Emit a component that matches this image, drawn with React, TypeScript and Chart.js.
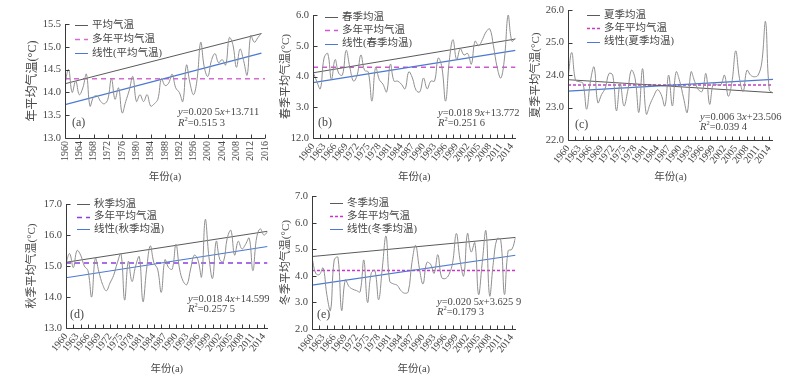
import React, { useEffect, useRef } from 'react';
import { Chart, registerables } from 'chart.js';
Chart.register(...registerables);

// ---------------- data ----------------
const years = [
  1960, 1961, 1962, 1963, 1964, 1965, 1966, 1967, 1968, 1969,
  1970, 1971, 1972, 1973, 1974, 1975, 1976, 1977, 1978, 1979,
  1980, 1981, 1982, 1983, 1984, 1985, 1986, 1987, 1988, 1989,
  1990, 1991, 1992, 1993, 1994, 1995, 1996, 1997, 1998, 1999,
  2000, 2001, 2002, 2003, 2004, 2005, 2006, 2007, 2008, 2009,
  2010, 2011, 2012, 2013, 2014, 2015,
];

const annualTemp = [
  14.2, 14.5, 14.0, 14.25, 13.95, 14.1, 14.4, 13.7, 13.9, 13.92,
  13.8, 13.75, 13.85, 14.3, 13.85, 14.1, 13.55, 13.8, 14.05, 14.35,
  13.8, 13.95, 13.8, 13.95, 13.7, 13.75, 13.85, 14.3, 14.15, 14.2,
  14.4, 14.1, 14.0, 13.8, 14.6, 14.2, 13.95, 14.3, 15.1, 14.55,
  14.35, 14.7, 14.85, 14.65, 14.72, 14.6, 15.2, 15.05, 14.55, 14.95,
  14.7, 14.38, 15.25, 15.1, 15.2, 15.3,
];
const springTemp = [
  4.15, 3.85, 3.6, 4.6, 4.75, 3.9, 4.55, 4.1, 4.05, 4.85,
  4.3, 3.85, 4.05, 4.7, 4.2, 4.15, 3.2, 4.3, 3.9, 3.75,
  3.5, 4.4, 3.85, 3.85, 3.75, 3.6, 4.15, 3.95, 3.55, 3.5,
  3.95, 3.6, 3.85, 3.85, 4.6, 4.3, 3.2, 4.5, 5.2, 4.55,
  4.9, 4.7, 4.75, 4.4, 5.15, 5.0, 5.2, 5.45, 5.55, 5.0,
  4.3, 3.95, 4.6, 6.0, 5.15, 5.25,
];
const summerTemp = [
  23.9, 24.7, 23.85, 23.8, 23.75, 22.95, 23.8, 24.25, 23.15, 23.4,
  23.6, 24.05, 24.0, 22.9, 23.75, 23.05, 23.5, 24.15, 23.9, 22.85,
  24.2, 22.8, 23.1, 23.35, 23.55, 23.4, 23.05, 24.0, 23.05, 24.1,
  23.8, 23.3, 22.85, 24.1, 23.8, 23.55, 23.5, 24.05, 23.1, 23.75,
  23.7, 23.7, 24.0, 23.35, 23.8, 24.75, 23.9, 23.5, 24.15, 24.0,
  23.95, 24.0, 24.4, 25.65, 23.55, 23.45,
];
const autumnTemp = [
  15.1, 15.4, 14.95, 15.5, 15.35, 15.0, 14.85, 14.0, 15.25, 14.8,
  14.4, 14.2, 14.45, 14.7, 15.1, 15.4, 13.9, 15.15, 14.5, 15.0,
  15.3, 13.85, 14.9, 15.65, 15.1, 14.9, 14.15, 15.2, 14.95, 14.9,
  15.7, 14.9, 14.5, 14.4, 14.9, 15.35, 15.2, 14.65, 16.5, 15.3,
  14.6, 15.8, 15.2, 15.15, 15.9, 16.15, 15.35, 15.8, 15.55, 15.7,
  15.9, 14.85, 15.9, 16.2, 16.0, 16.1,
];
const winterTemp = [
  4.7, 4.1, 4.05, 4.3, 3.3, 2.7, 4.6, 4.7, 2.7, 3.85,
  3.6, 3.5, 3.45, 3.4, 4.6, 3.0, 4.1, 4.2, 3.1, 4.3,
  5.5, 3.8, 3.7, 3.65, 3.45, 3.35, 3.4, 4.5, 5.15, 4.3,
  3.7, 4.5, 4.45, 4.1, 4.8, 3.95, 3.9, 4.05, 4.5, 5.6,
  4.6, 4.0, 5.6, 4.9, 5.25, 3.3, 4.5, 5.7, 3.25, 4.5,
  5.4, 5.35, 3.3, 4.95, 5.0, 5.45,
];

// multi-year means (a..e)
const meanTemps = [14.3, 4.3, 23.7, 15.1, 4.2];
// linear-trend line end values [1960, 2015]
const annualTrend = [13.73, 14.86];
const springTrend = [3.8, 4.85];
const summerTrend = [23.51, 23.87];
const autumnTrend = [14.62, 15.63];
const winterTrend = [3.65, 4.78];
// upper straight gray line end values [1960, 2015]
const annualUpper = [14.19, 15.29];
const springUpper = [4.12, 5.22];
const summerUpper = [23.86, 23.46];
const autumnUpper = [15.12, 16.12];
const winterUpper = [4.73, 5.45];

// regression texts
const slopes = ['0.020 5', '0.018 9', '0.006 3', '0.018 4', '0.020 5'];
const intercepts = ['13.711', '13.772', '23.506', '14.599', '3.625 9'];
const r2Values = ['0.515 3', '0.251 6', '0.039 4', '0.257 5', '0.179 3'];

// tick labels
const annualXLabels = [1960, 1964, 1968, 1972, 1976, 1980, 1984, 1988, 1992, 1996, 2000, 2004, 2008, 2012, 2016];
const seasonXLabels = [1960, 1963, 1966, 1969, 1972, 1975, 1978, 1981, 1984, 1987, 1990, 1993, 1996, 1999, 2002, 2005, 2008, 2011, 2014];
const seasonXTickMarks = [1960, 1962, 1964, 1966, 1968, 1970, 1972, 1974, 1976, 1978, 1980, 1982, 1984, 1986, 1988, 1990, 1992, 1994, 1996, 1998, 2000, 2002, 2004, 2006, 2008, 2010, 2012, 2014];
const annualYTicks = [13.0, 13.5, 14.0, 14.5, 15.0, 15.5];
const springYTicks = [2, 3, 4, 5, 6];
const springYLabels = ['12.0', '3.0', '4.0', '5.0', '6.0'];
const summerYTicks = [22, 23, 24, 25, 26];
const autumnYTicks = [13, 14, 15, 16, 17];
const winterYTicks = [2, 3, 4, 5, 6, 7];

const seriesNames = ['平均气温', '春季均温', '夏季均温', '秋季均温', '冬季均温'];
const yTitles = ['年平均气温(°C)', '春季平均气温(°C)', '夏季平均气温(°C)', '秋季平均气温(°C)', '冬季平均气温(°C)'];
const meanName = '多年平均气温';
const tags = ['(a)', '(b)', '(c)', '(d)', '(e)'];
const xTitle = '年份(a)';

// ---------------- styles / layout ----------------
const SERIF = "'Liberation Serif', 'Noto Sans CJK SC', serif";
const TEXT = '#474747';
const AXIS = '#3a3a3a';
const DATA_GRAY = '#8f8f8f';
const UPPER_GRAY = '#5a5a5a';
const BLUE = '#4a78d4';

type Panel = {
  box: [number, number, number, number];
  plot: [number, number, number, number];
  values: number[];
  trend: number[];
  upper: number[];
  idx: number;
  xMin: number;
  xMax: number;
  xTicks: number[];
  xLabels: number[];
  xMarks: number[];
  rotation: number;
  yMin: number;
  yMax: number;
  yTicks: number[];
  yLabels: string[];
  yTitleSize: number;
  meanColor: string;
  meanDash: number[];
  legend: [number, number, number];
  eq: [number, number, number];
  tag: [number, number];
};

const fmt1 = (a: number[]) => a.map((v) => v.toFixed(1));

const panels: Panel[] = [
  {
    box: [0, 0, 280, 186], plot: [65, 24, 274, 138],
    values: annualTemp, trend: annualTrend, upper: annualUpper, idx: 0,
    xMin: 1960, xMax: 2016, xTicks: annualXLabels, xLabels: annualXLabels, xMarks: annualXLabels, rotation: 90,
    yMin: 13, yMax: 15.5, yTicks: annualYTicks, yLabels: fmt1(annualYTicks), yTitleSize: 12,
    meanColor: '#d36bd0', meanDash: [5, 4],
    legend: [75, 25, 14], eq: [178, 112, 11.5], tag: [72, 123],
  },
  {
    box: [278, 0, 250, 186], plot: [313, 15, 518, 138],
    values: springTemp, trend: springTrend, upper: springUpper, idx: 1,
    xMin: 1960, xMax: 2015, xTicks: years, xLabels: seasonXLabels, xMarks: seasonXTickMarks, rotation: 52,
    yMin: 2, yMax: 6, yTicks: springYTicks, yLabels: springYLabels, yTitleSize: 11,
    meanColor: '#d057cf', meanDash: [5, 4],
    legend: [325, 17, 13.3], eq: [438, 113, 10.5], tag: [318, 123],
  },
  {
    box: [528, 0, 265, 186], plot: [568, 9.5, 773, 140],
    values: summerTemp, trend: summerTrend, upper: summerUpper, idx: 2,
    xMin: 1960, xMax: 2015, xTicks: years, xLabels: seasonXLabels, xMarks: seasonXTickMarks, rotation: 52,
    yMin: 22, yMax: 26, yTicks: summerYTicks, yLabels: fmt1(summerYTicks), yTitleSize: 11,
    meanColor: '#c23fc4', meanDash: [3, 2],
    legend: [587, 15, 13.3], eq: [700, 117, 10.5], tag: [575, 125],
  },
  {
    box: [0, 186, 280, 192], plot: [66, 204, 270, 328],
    values: autumnTemp, trend: autumnTrend, upper: autumnUpper, idx: 3,
    xMin: 1960, xMax: 2015, xTicks: years, xLabels: seasonXLabels, xMarks: seasonXTickMarks, rotation: 52,
    yMin: 13, yMax: 17, yTicks: autumnYTicks, yLabels: fmt1(autumnYTicks), yTitleSize: 11,
    meanColor: '#8a3fe0', meanDash: [5, 4],
    legend: [77, 204, 12.6], eq: [188, 299, 10.5], tag: [70, 315],
  },
  {
    box: [278, 186, 250, 192], plot: [312, 196, 518, 329],
    values: winterTemp, trend: winterTrend, upper: winterUpper, idx: 4,
    xMin: 1960, xMax: 2015, xTicks: years, xLabels: seasonXLabels, xMarks: seasonXTickMarks, rotation: 52,
    yMin: 2, yMax: 7, yTicks: winterYTicks, yLabels: fmt1(winterYTicks), yTitleSize: 11,
    meanColor: '#cc33cc', meanDash: [3, 2],
    legend: [330, 203, 13], eq: [437, 302, 10.5], tag: [317, 315],
  },
];

type Seg = { t: string; it?: boolean; sup?: boolean };
function drawRich(ctx: CanvasRenderingContext2D, segs: Seg[], x: number, y: number, size: number) {
  let cx = x;
  for (const s of segs) {
    const fs = s.sup ? size * 0.62 : size;
    ctx.font = `${s.it ? 'italic ' : ''}${fs}px ${SERIF}`;
    const dy = s.sup ? -size * 0.38 : 0;
    ctx.fillText(s.t, cx, y + dy);
    cx += ctx.measureText(s.t).width;
  }
}

function makeDecorPlugin(p: Panel) {
  const ox = p.box[0];
  const oy = p.box[1];
  return {
    id: 'decor' + p.idx,
    afterDatasetsDraw(chart: any) {
      const { ctx, chartArea } = chart;
      const xs = chart.scales.x;
      const ys = chart.scales.y;
      ctx.save();
      // axes
      ctx.strokeStyle = AXIS;
      ctx.lineWidth = 1;
      ctx.setLineDash([]);
      ctx.beginPath();
      const L = Math.round(chartArea.left) + 0.5;
      const B = Math.round(chartArea.bottom) + 0.5;
      ctx.moveTo(L, Math.round(chartArea.top));
      ctx.lineTo(L, B);
      ctx.lineTo(Math.round(chartArea.right), B);
      // inward ticks
      for (const v of p.xMarks) {
        const px = Math.round(xs.getPixelForValue(v)) + 0.5;
        ctx.moveTo(px, B);
        ctx.lineTo(px, B - 4);
      }
      for (const v of p.yTicks) {
        const py = Math.round(ys.getPixelForValue(v)) + 0.5;
        ctx.moveTo(L, py);
        ctx.lineTo(L + 4, py);
      }
      ctx.stroke();

      // legend
      const [lx, ly, lstep] = p.legend;
      const items = [
        { name: seriesNames[p.idx], color: UPPER_GRAY, dash: [] as number[] },
        { name: meanName, color: p.meanColor, dash: p.meanDash },
        { name: '线性(' + seriesNames[p.idx] + ')', color: BLUE, dash: [] as number[] },
      ];
      ctx.textBaseline = 'middle';
      ctx.textAlign = 'left';
      items.forEach((it, i) => {
        const y = ly - oy + i * lstep;
        const x0 = lx - ox;
        ctx.beginPath();
        ctx.strokeStyle = it.color;
        ctx.lineWidth = it.dash.length ? 1.5 : 1;
        ctx.setLineDash(it.dash);
        ctx.moveTo(x0, Math.round(y) + 0.5);
        ctx.lineTo(x0 + 13, Math.round(y) + 0.5);
        ctx.stroke();
        ctx.setLineDash([]);
        ctx.fillStyle = TEXT;
        ctx.font = `10.5px ${SERIF}`;
        ctx.fillText(it.name, x0 + 17, y);
      });

      // equation
      const [ex, ey, estep] = p.eq;
      ctx.fillStyle = TEXT;
      drawRich(ctx, [
        { t: 'y', it: true }, { t: '=' + slopes[p.idx] }, { t: 'x', it: true }, { t: '+' + intercepts[p.idx] },
      ], ex - ox, ey - oy, 10.5);
      drawRich(ctx, [
        { t: 'R', it: true }, { t: '2', sup: true }, { t: '=' + r2Values[p.idx] },
      ], ex - ox, ey - oy + estep, 10.5);

      // panel tag
      ctx.font = `12px ${SERIF}`;
      ctx.fillText(tags[p.idx], p.tag[0] - ox, p.tag[1] - oy);
      ctx.restore();
    },
  };
}

function PanelChart({ p }: { p: Panel }) {
  const ref = useRef<HTMLCanvasElement | null>(null);
  useEffect(() => {
    if (!ref.current) return;
    const [bx, by, bw, bh] = p.box;
    const [pl, pt, pr, pb] = p.plot;
    const lineData = years.map((yr, i) => ({ x: yr, y: p.values[i] }));
    const first = years[0];
    const last = years[years.length - 1];
    const chart = new Chart(ref.current, {
      type: 'line',
      data: {
        datasets: [
          {
            label: seriesNames[p.idx],
            data: lineData,
            borderColor: DATA_GRAY,
            borderWidth: 1,
            pointRadius: 0,
            tension: 0.4,
            fill: false,
          },
          {
            label: 'upper',
            data: [{ x: first, y: p.upper[0] }, { x: last, y: p.upper[1] }],
            borderColor: UPPER_GRAY,
            borderWidth: 1,
            pointRadius: 0,
            tension: 0,
          },
          {
            label: '线性(' + seriesNames[p.idx] + ')',
            data: [{ x: first, y: p.trend[0] }, { x: last, y: p.trend[1] }],
            borderColor: BLUE,
            borderWidth: 1.2,
            pointRadius: 0,
            tension: 0,
          },
          {
            label: meanName,
            data: [{ x: p.xMin, y: meanTemps[p.idx] }, { x: p.xMax, y: meanTemps[p.idx] }],
            borderColor: p.meanColor,
            borderWidth: 1.5,
            borderDash: p.meanDash,
            pointRadius: 0,
            tension: 0,
          },
        ],
      },
      options: {
        responsive: false,
        animation: false,
        devicePixelRatio: 1,
        layout: { padding: { left: 0, top: pt - by, right: bx + bw - pr, bottom: 0 } },
        plugins: { legend: { display: false }, tooltip: { enabled: false }, title: { display: false } },
        scales: {
          x: {
            type: 'linear',
            min: p.xMin,
            max: p.xMax,
            grid: { display: false, drawTicks: false },
            border: { display: false },
            afterBuildTicks: (s: any) => {
              s.ticks = p.xTicks.map((v) => ({ value: v }));
            },
            afterFit: (s: any) => {
              s.height = by + bh - pb;
            },
            ticks: {
              autoSkip: false,
              maxRotation: p.rotation,
              minRotation: p.rotation,
              padding: 3,
              color: TEXT,
              font: { family: SERIF, size: 10 },
              callback: (v: any) => (p.xLabels.includes(Number(v)) ? String(v) : ''),
            },
            title: {
              display: true,
              text: xTitle,
              color: TEXT,
              font: { family: SERIF, size: 10.5 },
              padding: { top: 0, bottom: 2 },
            },
          },
          y: {
            type: 'linear',
            min: p.yMin,
            max: p.yMax,
            grid: { display: false, drawTicks: false },
            border: { display: false },
            afterBuildTicks: (s: any) => {
              s.ticks = p.yTicks.map((v) => ({ value: v }));
            },
            afterFit: (s: any) => {
              s.width = pl - bx;
            },
            ticks: {
              padding: 4,
              color: TEXT,
              font: { family: SERIF, size: 10.5 },
              callback: (v: any) => {
                const i = p.yTicks.indexOf(Number(v));
                return i >= 0 ? p.yLabels[i] : '';
              },
            },
            title: {
              display: true,
              text: yTitles[p.idx],
              color: TEXT,
              font: { family: SERIF, size: p.yTitleSize },
              padding: { top: p.idx === 0 || p.idx === 3 ? 26 : 2, bottom: 0 },
            },
          },
        },
      },
      plugins: [makeDecorPlugin(p)],
    } as any);
    return () => chart.destroy();
  }, [p]);
  const [bx, by, bw, bh] = p.box;
  return (
    <canvas
      ref={ref}
      width={bw}
      height={bh}
      style={{ position: 'absolute', left: bx, top: by, width: bw, height: bh }}
    />
  );
}

export default function App() {
  return (
    <div
      style={{
        position: 'fixed',
        left: 0,
        top: 0,
        width: 793,
        height: 378,
        background: '#ffffff',
        overflow: 'hidden',
      }}
    >
      {panels.map((p) => (
        <PanelChart key={p.idx} p={p} />
      ))}
    </div>
  );
}
